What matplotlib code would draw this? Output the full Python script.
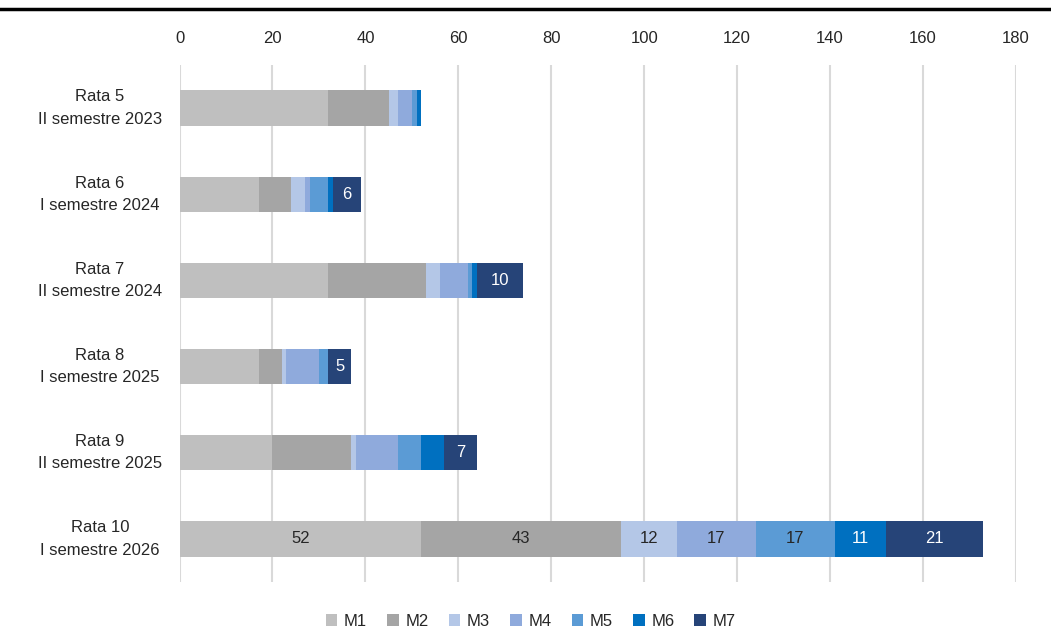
import matplotlib
matplotlib.use('Agg')
import matplotlib.pyplot as plt
from matplotlib.lines import Line2D
import numpy as np

# rows from top to bottom
rate = ['Rata 5\nII semestre 2023', 'Rata 6\nI semestre 2024', 'Rata 7\nII semestre 2024',
        'Rata 8\nI semestre 2025', 'Rata 9\nII semestre 2025', 'Rata 10\nI semestre 2026']
serie = ['M1', 'M2', 'M3', 'M4', 'M5', 'M6', 'M7']
m1 = [32, 17, 32, 17, 20, 52]
m2 = [13, 7, 21, 5, 17, 43]
m3 = [2, 3, 3, 1, 1, 12]
m4 = [3, 1, 6, 7, 9, 17]
m5 = [1, 4, 1, 2, 5, 17]
m6 = [1, 1, 1, 0, 5, 11]
m7 = [0, 6, 10, 5, 7, 21]
colori = ['#bfbfbf', '#a5a5a5', '#b4c7e7', '#8faadc', '#5b9bd5', '#0070c0', '#264478']
col_testo = ['#262626', '#262626', '#262626', '#262626', '#262626', 'white', 'white']

plt.rcParams['font.family'] = ['Liberation Sans', 'DejaVu Sans']

fig = plt.figure(figsize=(10.51, 6.32), dpi=100)
ax = fig.add_axes([0.1708, 0.0791, 0.9667 - 0.1708, 0.8972 - 0.0791])

dati = [m1, m2, m3, m4, m5, m6, m7]
y = np.arange(len(rate))
left = np.zeros(len(rate))
for k, vals in enumerate(dati):
    vals = np.array(vals, dtype=float)
    bars = ax.barh(y, vals, left=left, height=0.41, color=colori[k], label=serie[k], zorder=3)
    for i, b in enumerate(bars):
        # Excel shows all labels on the last row, only M7 elsewhere
        if vals[i] > 0 and (i == len(rate) - 1 or k == 6):
            ax.text(left[i] + vals[i] / 2, y[i], '%d' % vals[i], ha='center', va='center',
                    fontsize=12, color=col_testo[k], zorder=4)
    left += vals

ax.set_xlim(0, 180)
ax.set_ylim(5.5, -0.5)
ax.set_xticks(np.arange(0, 181, 20))
ax.xaxis.tick_top()
ax.set_yticks(y)
ax.set_yticklabels([])
ax.tick_params(axis='y', length=0)
ax.tick_params(axis='x', length=0, labelsize=12, labelcolor='#262626', pad=14)
# category labels, centred like Excel
for i, r in enumerate(rate):
    ax.text(-0.095, y[i], r, transform=ax.get_yaxis_transform(), ha='center', va='center',
            fontsize=12, color='#262626', linespacing=1.6)
ax.grid(axis='x', color='#d9d9d9', linewidth=1.5, zorder=0)
for s in ax.spines.values():
    s.set_visible(False)

fig.legend(loc='center', bbox_to_anchor=(0.505, 0.017), ncol=7, frameon=False, fontsize=12,
           handlelength=0.7, handleheight=0.7, handletextpad=0.4, columnspacing=1.2,
           labelcolor='#262626', borderpad=0.1)

fig.add_artist(Line2D([0, 1], [1 - 9 / 632, 1 - 9 / 632], color='black', linewidth=2.5,
                      transform=fig.transFigure))

fig.savefig('out.png', dpi=100)
